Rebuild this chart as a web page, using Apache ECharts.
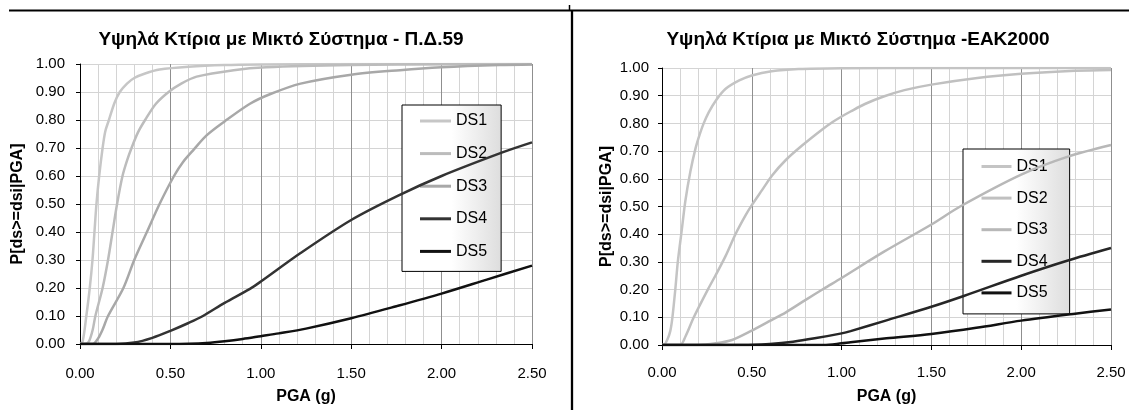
<!DOCTYPE html>
<html>
<head>
<meta charset="utf-8">
<script src="https://cdn.jsdelivr.net/npm/echarts@6/dist/echarts.min.js"></script>
<style>
html,body{margin:0;padding:0;background:#fff;}
#chart{width:1129px;height:410px;}
</style>
</head>
<body>
<div id="chart"></div>
<script>
// ---- Data: [PGA (g), P] ----
const seriesNames = ['DS1', 'DS2', 'DS3', 'DS4', 'DS5'];
const titlePD59 = 'Υψηλά Κτίρια με Μικτό Σύστημα - Π.Δ.59';
const titleEAK = 'Υψηλά Κτίρια με Μικτό Σύστημα -ΕΑΚ2000';
const xAxisName = 'PGA (g)';
const yAxisName = 'P[ds>=dsi|PGA]';

// Left chart (Π.Δ.59)
const pd59_DS1 = [[0,0],[0.015,0.01],[0.035,0.1],[0.054,0.2],[0.069,0.3],[0.08,0.4],[0.091,0.5],[0.106,0.6],[0.125,0.7],[0.14,0.76],[0.16,0.8],[0.19,0.86],[0.22,0.9],[0.26,0.93],[0.3,0.95],[0.36,0.966],[0.44,0.98],[0.6,0.99],[0.8,0.996],[1.0,0.998],[1.5,1],[2.0,1],[2.5,1]];
const pd59_DS2 = [[0,0],[0.03,0],[0.05,0.01],[0.07,0.05],[0.085,0.1],[0.125,0.2],[0.155,0.3],[0.18,0.4],[0.205,0.5],[0.235,0.6],[0.26,0.655],[0.285,0.7],[0.32,0.755],[0.36,0.8],[0.42,0.858],[0.49,0.9],[0.56,0.93],[0.645,0.955],[0.85,0.978],[1.03,0.988],[1.5,0.996],[2.0,0.999],[2.5,1]];
const pd59_DS3 = [[0,0],[0.07,0],[0.1,0.02],[0.124,0.05],[0.155,0.1],[0.24,0.2],[0.3,0.3],[0.37,0.4],[0.44,0.5],[0.52,0.6],[0.57,0.65],[0.63,0.695],[0.7,0.745],[0.8,0.795],[0.94,0.858],[1.05,0.892],[1.22,0.93],[1.5,0.962],[1.77,0.978],[2.0,0.988],[2.32,0.996],[2.5,0.998]];
const pd59_DS4 = [[0,0],[0.2,0],[0.3,0.005],[0.4,0.022],[0.5,0.047],[0.6,0.075],[0.68,0.1],[0.8,0.147],[0.94,0.197],[1.0,0.223],[1.22,0.325],[1.5,0.443],[1.76,0.53],[2.0,0.6],[2.34,0.685],[2.5,0.72]];
const pd59_DS5 = [[0,0],[0.5,0],[0.6,0.001],[0.7,0.004],[0.8,0.01],[0.9,0.018],[1.0,0.028],[1.1,0.038],[1.25,0.055],[1.5,0.092],[1.75,0.135],[2.0,0.18],[2.25,0.23],[2.5,0.28]];

// Right chart (ΕΑΚ2000)
const eak_DS1 = [[0,0],[0.01,0],[0.03,0.02],[0.046,0.05],[0.058,0.1],[0.074,0.2],[0.088,0.3],[0.11,0.415],[0.13,0.52],[0.158,0.626],[0.186,0.708],[0.21,0.76],[0.232,0.8],[0.26,0.84],[0.3,0.883],[0.353,0.924],[0.43,0.955],[0.5,0.973],[0.61,0.988],[0.76,0.996],[1.0,0.999],[1.5,1],[2.0,1],[2.5,1]];
const eak_DS2 = [[0,0],[0.1,0],[0.13,0.03],[0.177,0.1],[0.255,0.2],[0.297,0.25],[0.353,0.32],[0.409,0.4],[0.465,0.468],[0.5,0.505],[0.558,0.56],[0.613,0.612],[0.688,0.667],[0.78,0.72],[0.892,0.778],[0.95,0.805],[1.0,0.825],[1.05,0.843],[1.13,0.87],[1.234,0.897],[1.35,0.92],[1.5,0.94],[1.756,0.964],[2.0,0.979],[2.3,0.99],[2.5,0.993]];
const eak_DS3 = [[0,0],[0.2,0],[0.3,0.006],[0.39,0.018],[0.5,0.052],[0.595,0.085],[0.69,0.118],[0.8,0.163],[0.9,0.203],[1.0,0.242],[1.234,0.336],[1.5,0.435],[1.66,0.5],[2.0,0.615],[2.26,0.68],[2.5,0.722]];
const eak_DS4 = [[0,0],[0.45,0],[0.6,0.004],[0.73,0.012],[0.85,0.024],[1.0,0.042],[1.05,0.05],[1.25,0.089],[1.5,0.138],[1.68,0.177],[2.0,0.25],[2.26,0.305],[2.5,0.35]];
const eak_DS5 = [[0,0],[0.9,0],[1.0,0.006],[1.05,0.01],[1.25,0.024],[1.5,0.04],[1.75,0.062],[2.0,0.088],[2.3,0.113],[2.5,0.128]];

const pd59Data = [pd59_DS1, pd59_DS2, pd59_DS3, pd59_DS4, pd59_DS5];
const eakData = [eak_DS1, eak_DS2, eak_DS3, eak_DS4, eak_DS5];

// ---- Styles ----
const FONT = '"Liberation Sans", Arial, Helvetica, sans-serif';
const pd59Colors = ['#c6c6c6', '#bcbcbc', '#a8a8a8', '#333333', '#111111'];
const eakColors = ['#c4c4c4', '#c0c0c0', '#b8b8b8', '#262626', '#111111'];

const chart = echarts.init(document.getElementById('chart'), null, {renderer: 'canvas'});

function mkX(i, nameGap, labelMargin) {
  return {
    type: 'value', gridIndex: i, min: 0, max: 2.5, interval: 0.5,
    name: xAxisName, nameLocation: 'middle', nameGap: nameGap,
    nameTextStyle: {fontSize: 16, fontWeight: 'bold', color: '#000', fontFamily: FONT},
    axisLine: {show: true, onZero: false, lineStyle: {color: '#000', width: 1}},
    axisTick: {show: true, inside: false, length: 5, lineStyle: {color: '#000', width: 1}},
    axisLabel: {margin: labelMargin, fontSize: 15, color: '#000', fontFamily: FONT,
      formatter: function (v) { return v.toFixed(2); }},
    splitLine: {show: true, lineStyle: {color: '#8f8f8f', width: 1}},
    minorTick: {show: false, splitNumber: 5},
    minorSplitLine: {show: true, lineStyle: {color: '#d4d4d4', width: 1}}
  };
}
function mkY(i, nameGap, labelMargin) {
  return {
    type: 'value', gridIndex: i, min: 0, max: 1, interval: 0.1,
    name: yAxisName, nameLocation: 'middle', nameGap: nameGap,
    nameTextStyle: {fontSize: 16, fontWeight: 'bold', color: '#000', fontFamily: FONT},
    axisLine: {show: true, lineStyle: {color: '#000', width: 1}},
    axisTick: {show: true, inside: false, length: 4, lineStyle: {color: '#000', width: 1}},
    axisLabel: {margin: labelMargin, fontSize: 15, color: '#000', fontFamily: FONT,
      formatter: function (v) { return v.toFixed(2); }},
    splitLine: {show: true, lineStyle: {color: '#d4d4d4', width: 1}}
  };
}
function mkSeries(data, colors, idx) {
  return data.map(function (d, k) {
    return {
      name: seriesNames[k], type: 'line', xAxisIndex: idx, yAxisIndex: idx,
      data: d, showSymbol: false, symbol: 'none', smooth: 0.3, clip: true,
      lineStyle: {color: colors[k], width: 2.5},
      itemStyle: {color: colors[k]},
      emphasis: {disabled: true}, z: 3 + k
    };
  });
}
function legendBg() {
  return new echarts.graphic.LinearGradient(0, 0, 1, 0, [
    {offset: 0, color: '#ffffff'}, {offset: 0.5, color: '#ffffff'}, {offset: 1, color: '#dddddd'}
  ]);
}
function mkLegend(left, top, padding, itemWidth, itemGap, colors) {
  return {
    orient: 'vertical', left: left, top: top, padding: padding,
    itemWidth: itemWidth, itemHeight: 3, itemGap: itemGap, icon: 'rect',
    selectedMode: false,
    textStyle: {fontSize: 16, color: '#000', lineHeight: 18, fontFamily: FONT},
    backgroundColor: legendBg(), borderColor: '#000', borderWidth: 1, borderRadius: 0,
    data: seriesNames.map(function (n, k) { return {name: n, itemStyle: {color: colors[k]}}; })
  };
}

const option = {
  animation: false,
  backgroundColor: '#ffffff',
  textStyle: {fontFamily: FONT},
  title: [
    {text: titlePD59, left: 281, top: 30, textAlign: 'center', padding: 0,
      textStyle: {fontSize: 19, fontWeight: 'bold', color: '#000', fontFamily: FONT}},
    {text: titleEAK, left: 858, top: 30, textAlign: 'center', padding: 0,
      textStyle: {fontSize: 19, fontWeight: 'bold', color: '#000', fontFamily: FONT}}
  ],
  legend: [
    mkLegend(402, 105, [7, 14, 11, 18], 31, 14.6, pd59Colors),
    mkLegend(963, 149, [8.5, 22, 12, 18.5], 30, 13.6, eakColors)
  ],
  grid: [
    {left: 80, right: 597, top: 64, bottom: 60},
    {left: 662, right: 18, top: 68, bottom: 58}
  ],
  xAxis: [mkX(0, 45, 22), mkX(1, 44, 20)],
  yAxis: [mkY(0, 54, 15), mkY(1, 47, 13)],
  series: mkSeries(pd59Data, pd59Colors, 0).concat(mkSeries(eakData, eakColors, 1)),
  graphic: [
    {type: 'line', shape: {x1: 9, y1: 10.5, x2: 1129, y2: 10.5}, style: {stroke: '#000', lineWidth: 2}, silent: true},
    {type: 'line', shape: {x1: 572, y1: 10, x2: 572, y2: 410}, style: {stroke: '#000', lineWidth: 2.3}, silent: true},
    {type: 'line', shape: {x1: 569.5, y1: 5, x2: 569.5, y2: 10}, style: {stroke: '#000', lineWidth: 1.5}, silent: true}
  ]
};
chart.setOption(option);
</script>
</body>
</html>
